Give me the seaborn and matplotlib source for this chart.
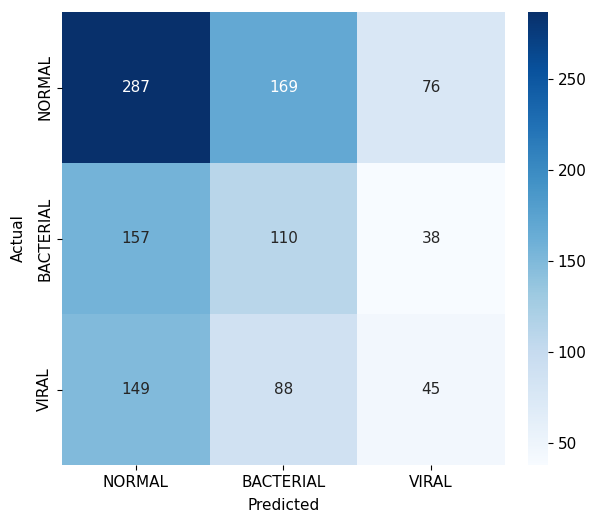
import numpy as np
import pandas as pd
import matplotlib
matplotlib.use("Agg")
import matplotlib.pyplot as plt
import seaborn as sns

classes = ["NORMAL", "BACTERIAL", "VIRAL"]
row_normal = [287, 169, 76]
row_bacterial = [157, 110, 38]
row_viral = [149, 88, 45]

cm = pd.DataFrame([row_normal, row_bacterial, row_viral], index=classes, columns=classes)

plt.rcParams["font.size"] = 11

fig = plt.figure(figsize=(5.97, 5.12), dpi=100)
ax = fig.add_axes([62 / 597, 47 / 512, 443 / 597, 453 / 512])
cax = fig.add_axes([528 / 597, 47 / 512, 20 / 597, 453 / 512])

sns.heatmap(cm, annot=True, fmt="d", cmap="Blues", ax=ax, cbar_ax=cax,
            annot_kws={"fontsize": 11})
ax.set_xlabel("Predicted", fontsize=11, labelpad=6)
ax.set_ylabel("Actual", fontsize=11, labelpad=8)
ax.tick_params(labelsize=11)
cax.tick_params(labelsize=11)

fig.savefig("out.png", dpi=100)
